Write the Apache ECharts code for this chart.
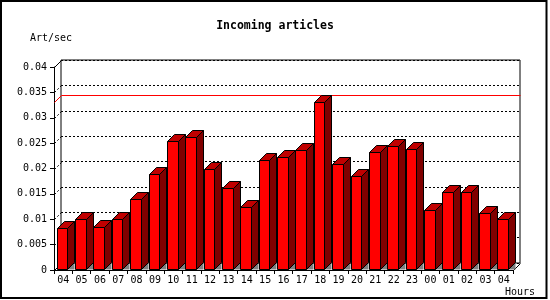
<!DOCTYPE html>
<html>
<head>
<meta charset="utf-8">
<script src="https://cdn.jsdelivr.net/npm/echarts@6/dist/echarts.min.js"></script>
<style>
html,body{margin:0;padding:0;background:#fff;}
#c{width:550px;height:300px;}
</style>
</head>
<body>
<div id="c"></div>
<script>
const hours = ['04','05','06','07','08','09','10','11','12','13','14','15','16','17','18','19','20','21','22','23','00','01','02','03','04'];
const articles = [0.0082,0.0100,0.0084,0.0100,0.0139,0.0189,0.0255,0.0262,0.0199,0.0161,0.0124,0.0216,0.0222,0.0236,0.0331,0.0209,0.0185,0.0232,0.0245,0.0239,0.0118,0.0153,0.0153,0.0112,0.0100];
const yTicks = [0,0.005,0.01,0.015,0.02,0.025,0.03,0.035,0.04];
const titleText = 'Incoming articles';
const yName = 'Art/sec';
const xName = 'Hours';

const D = 7; // 3D depth in px
const FONT = 'DejaVu Sans Mono';
const maxVal = Math.max.apply(null, articles);

const chart = echarts.init(document.getElementById('c'), null, {renderer:'canvas'});

function px(v){ return Math.round(v) + 0.5; }

function renderBar(params, api){
  const i = api.value(0), v = api.value(1);
  const base = api.coord([i, 0]);
  const top = api.coord([i, v]);
  const bw = api.size([1, 0])[0];
  const xl = px(base[0] - bw * 0.35);
  const xr = px(base[0] - bw * 0.35 + bw * 0.58);
  const y0 = px(base[1]) - 1;
  const yt = px(top[1]);
  return {type:'group', children:[
    {type:'polygon', shape:{points:[[xr,y0],[xr+D,y0-D],[xr+D,y0]]}, style:{fill:'#808080', stroke:null}},
    {type:'polygon', shape:{points:[[xr,yt],[xr+D,yt-D],[xr+D,y0-D],[xr,y0]]}, style:{fill:'#800000', stroke:'#000', lineWidth:1}},
    {type:'polygon', shape:{points:[[xl,yt],[xl+D,yt-D],[xr+D,yt-D],[xr,yt]]}, style:{fill:'#c00000', stroke:'#000', lineWidth:1}},
    {type:'rect', shape:{x:xl, y:yt, width:xr-xl, height:y0-yt}, style:{fill:'#ff0000', stroke:'#000', lineWidth:1}}
  ]};
}

function renderSide(params, api){
  const v = api.value(0);
  const p = api.coord([0, v]);
  const cs = params.coordSys;
  const x0 = px(cs.x), y = px(p[1]);
  const solid = (v === 0 || v === yTicks[yTicks.length-1]);
  const children = [
    {type:'line', shape:{x1:x0, y1:y, x2:x0+D, y2:y-D}, style:{stroke:'#000', lineWidth:1, lineDash: solid ? null : [2,2]}}
  ];
  if (v === 0) {
    const xr = px(cs.x + cs.width);
    children.push({type:'line', shape:{x1:xr, y1:y, x2:xr+D, y2:y-D}, style:{stroke:'#000', lineWidth:1}});
  }
  return {type:'group', children};
}

function renderMax(params, api){
  const v = api.value(0);
  const p = api.coord([0, v]);
  const cs = params.coordSys;
  const x0 = px(cs.x), y = px(p[1]);
  const xr = px(cs.x + cs.width);
  return {type:'group', children:[
    {type:'line', shape:{x1:x0, y1:y, x2:x0+D, y2:y-D}, style:{stroke:'#ff0000', lineWidth:1}},
    {type:'line', shape:{x1:x0+D, y1:y-D, x2:xr+D, y2:y-D}, style:{stroke:'#ff0000', lineWidth:1}}
  ]};
}

const option = {
  animation:false,
  backgroundColor:'#fff',
  title:{
    text:titleText, left:'center', top:20, padding:0,
    textStyle:{fontFamily:FONT, fontSize:11.5, fontWeight:'bold', color:'#000'}
  },
  grid:[
    {left:54, right:37, top:67, bottom:30},
    {left:61, right:30, top:60, bottom:37, show:true, borderColor:'#000', borderWidth:1, backgroundColor:'transparent', z:0}
  ],
  xAxis:[
    {type:'category', gridIndex:0, data:hours, boundaryGap:true,
     axisLine:{show:true, lineStyle:{color:'#000', width:1}},
     axisTick:{show:true, length:4, alignWithLabel:false, lineStyle:{color:'#000'}},
     axisLabel:{interval:0, margin:5, fontFamily:FONT, fontSize:10, color:'#000'},
     splitLine:{show:false}},
    {type:'category', gridIndex:1, data:hours, show:false}
  ],
  yAxis:[
    {type:'value', gridIndex:0, min:0, max:0.04, interval:0.005,
     axisLine:{show:true, lineStyle:{color:'#000', width:1}},
     axisTick:{show:true, length:4, lineStyle:{color:'#000'}},
     axisLabel:{margin:7, fontFamily:FONT, fontSize:10, color:'#000'},
     splitLine:{show:false}},
    {type:'value', gridIndex:1, min:0, max:0.04, interval:0.005,
     axisLine:{show:false}, axisTick:{show:false}, axisLabel:{show:false},
     splitLine:{show:true, lineStyle:{color:'#000', width:1, type:[2,2]}}}
  ],
  series:[
    {type:'custom', xAxisIndex:0, yAxisIndex:0, renderItem:renderSide, data:yTicks.map(v=>[v]), z:1, silent:true},
    {type:'custom', xAxisIndex:0, yAxisIndex:0, renderItem:renderMax, data:[[maxVal]], z:2, silent:true},
    {type:'custom', xAxisIndex:0, yAxisIndex:0, renderItem:renderBar, data:articles.map((v,i)=>[i,v]), z:3, silent:true}
  ],
  graphic:[
    {type:'text', left:30, top:33, style:{text:yName, fontFamily:FONT, fontSize:10, fill:'#000'}},
    {type:'text', left:505, top:287, style:{text:xName, fontFamily:FONT, fontSize:10, fill:'#000'}},
    {type:'rect', shape:{x:1, y:1, width:545.5, height:297}, style:{fill:null, stroke:'#000', lineWidth:2}, z:10}
  ]
};
chart.setOption(option);
</script>
</body>
</html>
